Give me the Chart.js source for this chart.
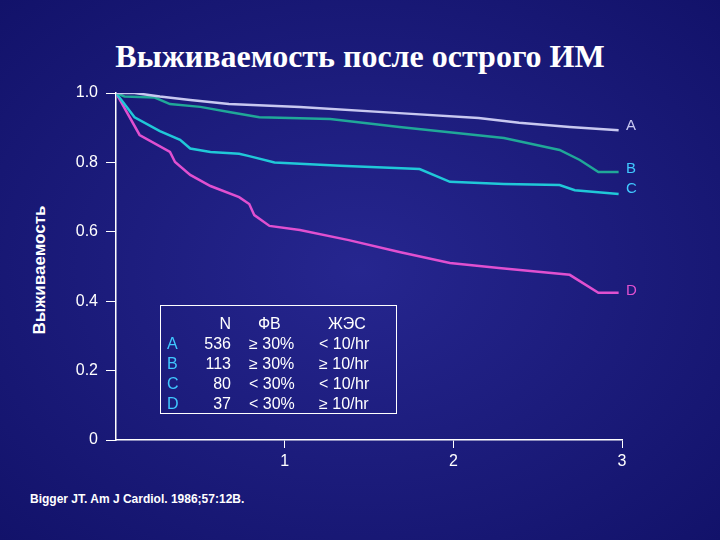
<!DOCTYPE html><html><head><meta charset="utf-8">
<script src="https://cdn.jsdelivr.net/npm/chart.js"></script>
<style>
body{margin:0;width:720px;height:540px;overflow:hidden;background:radial-gradient(ellipse at 50% 50%,#26268f 0%,#1c1c7c 50%,#12126a 100%);font-family:"Liberation Sans",Arial,sans-serif;color:#fff;position:relative}
#t{position:absolute;top:38px;left:0;width:720px;text-align:center;font:bold 32px "Liberation Serif",serif}
#yl{position:absolute;left:40px;top:270px;transform:translate(-50%,-50%) rotate(-90deg);font-size:17px;font-weight:bold}
#cit{position:absolute;left:30px;top:492px;font-size:12px;font-weight:bold}
#tb{position:absolute;left:160px;top:305px;width:235px;height:107px;border:1px solid #fff;font-size:16px;line-height:20px}
#tb div{position:absolute;top:8px}
canvas{position:absolute;left:0;top:0}
</style></head><body>
<div id="t">Выживаемость после острого ИМ</div>
<div id="yl">Выживаемость</div>
<div id="cit">Bigger JT. Am J Cardiol. 1986;57:12B.</div>
<canvas id="c" width="720" height="540"></canvas>
<div id="tb">
<div style="left:6px;top:28px;color:#40c8ff">A<br>B<br>C<br>D</div>
<div style="left:32px;width:38px;text-align:right">N<br>536<br>113<br>80<br>37</div>
<div style="left:88px">&nbsp;&nbsp;ФВ<br>≥ 30%<br>≥ 30%<br>&lt; 30%<br>&lt; 30%</div>
<div style="left:158px">&nbsp;&nbsp;ЖЭС<br>&lt; 10/hr<br>≥ 10/hr<br>&lt; 10/hr<br>≥ 10/hr</div>
</div>
<script>
const seriesA=[[0,1],[0.11,1.0],[0.26,0.99],[0.44,0.98],[0.67,0.968],[1.09,0.96],[1.68,0.942],[2.15,0.928],[2.39,0.914],[2.69,0.902],[2.98,0.893]];
const seriesB=[[0,1],[0.05,0.99],[0.23,0.987],[0.32,0.968],[0.5,0.96],[0.67,0.945],[0.85,0.93],[1.27,0.925],[1.68,0.902],[1.92,0.89],[2.3,0.87],[2.63,0.836],[2.75,0.807],[2.86,0.772],[2.98,0.772]];
const seriesC=[[0,1],[0.11,0.93],[0.26,0.89],[0.38,0.865],[0.44,0.84],[0.56,0.83],[0.73,0.825],[0.79,0.818],[0.94,0.8],[1.15,0.795],[1.33,0.79],[1.8,0.781],[1.98,0.744],[2.3,0.738],[2.63,0.735],[2.72,0.72],[2.98,0.709]];
const seriesD=[[0,1],[0.14,0.879],[0.32,0.83],[0.35,0.801],[0.44,0.764],[0.56,0.732],[0.73,0.7],[0.79,0.68],[0.82,0.648],[0.91,0.617],[1.09,0.605],[1.38,0.576],[1.68,0.542],[1.98,0.51],[2.27,0.496],[2.69,0.476],[2.86,0.424],[2.98,0.424]];
const labels=["A","B","C","D"];
const labelY=[0.905,0.78,0.725,0.43];
const colors=["#c8c8f0","#20a898","#20c8d8","#e050d0"];
const labelColors=["#c8c8f0","#40c8ff","#40c8ff","#e050d0"];
const yTicks=[0,0.2,0.4,0.6,0.8,1.0];
const xTicks=[1,2,3];
const all=[seriesA,seriesB,seriesC,seriesD];
const endLabels={id:'el',afterDatasetsDraw(ch){const x=ch.scales.x,y=ch.scales.y,c=ch.ctx;c.save();c.font='15px "Liberation Sans"';c.textAlign='left';c.textBaseline='middle';labels.forEach((l,i)=>{c.fillStyle=labelColors[i];c.fillText(l,x.getPixelForValue(3)+4,y.getPixelForValue(labelY[i]));});c.restore();}};
new Chart(document.getElementById('c'),{type:'scatter',
data:{datasets:all.map((s,i)=>({label:labels[i],data:s.map(p=>({x:p[0],y:p[1]})),showLine:true,borderColor:colors[i],borderWidth:2.5,pointRadius:0,tension:0}))},
options:{responsive:false,animation:false,layout:{padding:{top:93,right:98,left:0,bottom:0}},
plugins:{legend:{display:false},tooltip:{enabled:false}},
scales:{
x:{type:'linear',min:0,max:3,afterFit:s=>{s.height=100},afterBuildTicks:s=>{s.ticks=xTicks.map(v=>({value:v}))},
border:{color:'#fff',width:1.5},grid:{drawOnChartArea:false,color:'#fff',tickLength:8},
ticks:{color:'#fff',font:{size:16,family:'Liberation Sans'},padding:4}},
y:{min:0,max:1,afterFit:s=>{s.width=116},afterBuildTicks:s=>{s.ticks=yTicks.map(v=>({value:v}))},
border:{color:'#fff',width:1.5},grid:{drawOnChartArea:false,color:'#fff',tickLength:10},
ticks:{color:'#fff',font:{size:16,family:'Liberation Sans'},padding:8,callback:v=>v===0?'0':v.toFixed(1)}}}},
plugins:[endLabels]});
</script></body></html>
